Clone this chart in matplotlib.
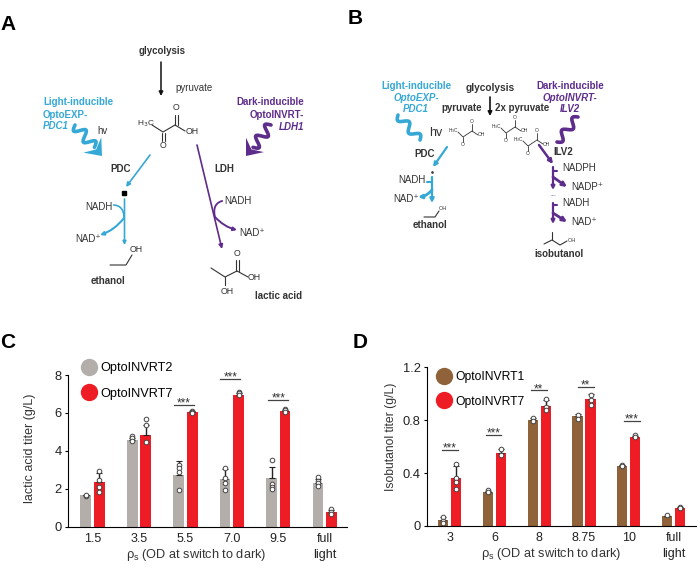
import numpy as np
import matplotlib
matplotlib.use("Agg")
import matplotlib.pyplot as plt
from matplotlib.lines import Line2D
from matplotlib.patches import FancyArrowPatch, Polygon

plt.rcParams['font.family'] = ['Liberation Sans', 'DejaVu Sans']
W, H = 698, 577
CYAN = '#35a8d6'; PURPLE = '#5e2d8c'; DARK = '#333333'
GRAY = '#b3aeaa'; RED = '#ee1c25'; BROWN = '#8f6239'

# --- panel C data
c_labels = ['1.5', '3.5', '5.5', '7.0', '9.5', 'full\nlight']
c_inv2 = [1.65, 4.55, 2.72, 2.50, 2.55, 2.33]
c_inv7 = [2.35, 4.85, 6.03, 6.97, 6.10, 0.75]
c_inv2_err = [0.03, 0.12, 0.72, 0.55, 0.60, 0.20]
c_inv7_err = [0.50, 0.50, 0.05, 0.07, 0.07, 0.12]
c_inv2_pts = [[1.63, 1.68], [4.78, 4.66, 4.52], [3.25, 3.08, 2.90, 1.95],
              [3.09, 2.55, 2.32, 1.92], [3.50, 2.23, 2.10, 1.99], [2.63, 2.43, 2.28, 2.13]]
c_inv7_pts = [[2.92, 2.46, 2.10, 1.85], [5.66, 5.38, 4.48], [6.10, 6.05, 6.00],
              [7.12, 7.05, 6.95], [6.20, 6.15, 6.05], [0.93, 0.79, 0.68]]
c_sig = [(2, 6.42, '***'), (3, 7.79, '***'), (4, 6.70, '***')]

# --- panel D data
d_labels = ['3', '6', '8', '8.75', '10', 'full\nlight']
d_inv1 = [0.045, 0.255, 0.80, 0.83, 0.455, 0.075]
d_inv7 = [0.36, 0.55, 0.91, 0.96, 0.67, 0.135]
d_inv1_err = [0.02, 0.01, 0.015, 0.02, 0.005, 0.003]
d_inv7_err = [0.09, 0.03, 0.04, 0.04, 0.01, 0.005]
d_inv1_pts = [[0.07, 0.04, 0.025], [0.27, 0.255], [0.82, 0.797], [0.842, 0.81], [0.46, 0.455], [0.08]]
d_inv7_pts = [[0.466, 0.36, 0.335, 0.28], [0.58, 0.537], [0.958, 0.897, 0.877],
              [0.99, 0.953, 0.918], [0.685, 0.67], [0.145, 0.135]]
d_sig = [(0, 0.575, '***'), (1, 0.688, '***'), (2, 1.026, '**'), (3, 1.054, '**'), (4, 0.797, '***')]

fig = plt.figure(figsize=(W / 100, H / 100), dpi=100)


def px_axes(x0, x1, ytop, ybot):
    return fig.add_axes([x0 / W, 1 - ybot / H, (x1 - x0) / W, (ybot - ytop) / H])


def bar_panel(ax, s1, s2, e1, e2, p1, p2, col1, col2, labels, ylim, yticks, yticklabels,
              ylabel, sig, xlim, names, dx, bw, legend_xy, sig_dx, sig_hw, leg_fs, leg_ls, leg_pad,
              tick_fs, ylab_fs):
    x = np.arange(len(s1))
    for off, vals, errs, pts, col in ((-dx, s1, e1, p1, col1), (dx, s2, e2, p2, col2)):
        ax.bar(x + off, vals, bw, color=col, zorder=2)
        ax.errorbar(x + off, vals, yerr=[np.zeros(len(errs)), errs], fmt='none', ecolor='#222222',
                    elinewidth=1, capsize=2, capthick=0.8, zorder=3)
        for xi, group in zip(x + off, pts):
            ax.scatter([xi] * len(group), group, s=11, facecolor='white', edgecolor='#444444',
                       linewidth=0.7, zorder=4, clip_on=False)
    for (g, yv, stars), sd in zip(sig, sig_dx):
        ax.plot([g + sd - sig_hw, g + sd + sig_hw], [yv, yv], color='#444444', lw=0.9, clip_on=False)
        ax.text(g + sd, yv - (ylim[1] * 0.03), stars, ha='center', va='bottom', fontsize=8.5,
                color='#333333', clip_on=False, linespacing=1)
    ax.set_xlim(*xlim)
    ax.set_ylim(*ylim)
    ax.set_xticks(x)
    ax.set_xticklabels(labels, fontsize=tick_fs, color='#222222', linespacing=1.4)
    ax.set_yticks(yticks)
    ax.set_yticklabels(yticklabels, fontsize=tick_fs + 0.3, color='#222222')
    ax.tick_params(axis='x', length=0, pad=4.5)
    ax.tick_params(axis='y', length=2.5, width=0.8, pad=2)
    ax.set_ylabel(ylabel, fontsize=ylab_fs, color='#333333')
    for s in ('top', 'right'):
        ax.spines[s].set_visible(False)
    for s in ('left', 'bottom'):
        ax.spines[s].set_linewidth(0.8)
    ax.set_xlabel(r'$\mathregular{\rho_s}$ (OD at switch to dark)', fontsize=9.2, color='#333333')
    handles = [Line2D([], [], ls='', marker='o', ms=12.5, color=col1, mew=0),
               Line2D([], [], ls='', marker='o', ms=12.5, color=col2, mew=0)]
    ax.legend(handles, names, loc='upper left', bbox_to_anchor=(legend_xy[0] / W, 1 - legend_xy[1] / H),
              bbox_transform=fig.transFigure, frameon=False, fontsize=leg_fs, handletextpad=leg_pad,
              labelspacing=leg_ls, borderpad=0, borderaxespad=0, handlelength=1.6)


axc = px_axes(68, 347, 375, 526.7)
bar_panel(axc, c_inv2, c_inv7, c_inv2_err, c_inv7_err, c_inv2_pts, c_inv7_pts, GRAY, RED, c_labels,
          (0, 8), [0, 2, 4, 6, 8], ['0', '2', '4', '6', '8'], 'lactic acid titer (g/L)', c_sig,
          (-0.525, 5.48), ['OptoINVRT2', 'OptoINVRT7'], 0.145, 0.235, (79, 362),
          [-0.03, -0.03, 0.0], 0.215, 9.2, 1.06, 0.05, 9.0, 9.0)
axc.xaxis.label.set_position((0.46, 0))
axc.xaxis.labelpad = -9.5
axc.yaxis.labelpad = 13
axc.yaxis.label.set_position((0, 0.52))

axd = px_axes(427, 696, 367.3, 526)
bar_panel(axd, d_inv1, d_inv7, d_inv1_err, d_inv7_err, d_inv1_pts, d_inv7_pts, BROWN, RED, d_labels,
          (0, 1.2), [0, 0.4, 0.8, 1.2], ['0', '0.4', '0.8', '1.2'], 'Isobutanol titer (g/L)', d_sig,
          (-0.505, 5.5), ['OptoINVRT1', 'OptoINVRT7'], 0.145, 0.225, (434, 371),
          [0, -0.02, -0.015, 0.04, 0.07], 0.178, 8.7, 1.04, 0.2, 9.0, 8.7)
axd.xaxis.label.set_position((0.46, 0))
axd.xaxis.labelpad = -10
axd.yaxis.labelpad = 4
axd.yaxis.label.set_position((0, 0.56))

# --- schematic overlay in pixel coordinates
ov = fig.add_axes([0, 0, 1, 1], zorder=5)
ov.set_xlim(0, W)
ov.set_ylim(H, 0)
ov.axis('off')


def T(x, y, s, size=7.5, color=DARK, weight='normal', style='normal', ha='left', va='center'):
    ov.text(x, y, s, fontsize=size, color=color, fontweight=weight, fontstyle=style, ha=ha, va=va)


def L(xs, ys, color='#333333', lw=0.8):
    ov.plot(xs, ys, color=color, lw=lw, solid_capstyle='round')


def A(p, q, color, lw=1.3, ms=7, rad=0):
    ov.add_patch(FancyArrowPatch(p, q, arrowstyle='-|>', mutation_scale=ms, color=color, lw=lw,
                                 shrinkA=0, shrinkB=0, connectionstyle=f'arc3,rad={rad}'))


def squiggle(p, q, color, lw=2.6, amp=5, n=2.5, head=True):
    p, q = np.array(p, float), np.array(q, float)
    d = q - p
    ln = np.hypot(*d)
    u = d / ln
    v = np.array([-u[1], u[0]])
    t = np.linspace(0, 1, 80)
    end = 0.72 if head else 1
    pts = np.array([p + d * ti * end + v * amp * np.sin(2 * np.pi * n * ti) for ti in t])
    ov.plot(pts[:, 0], pts[:, 1], color=color, lw=lw, solid_capstyle='round')
    if head:
        b = p + d * 0.66
        w = ln * 0.36
        poly = [q, b + v * w * 0.8 - u * w * 0.05, b + u * w * 0.35, b - v * w * 0.8 - u * w * 0.05]
        ov.add_patch(Polygon(poly, closed=True, color=color, lw=0))


def hook(p, c, q, color, lw=1.3):
    t = np.linspace(0, 1, 30)[:, None]
    p, c, q = map(np.array, (p, c, q))
    pts = (1 - t) ** 2 * p + 2 * t * (1 - t) * c + t ** 2 * q
    ov.plot(pts[:, 0], pts[:, 1], color=color, lw=lw)


# panel letters
for x, y, s in [(0, 25, 'A'), (348, 19, 'B'), (0, 343, 'C'), (353, 343, 'D')]:
    T(x, y, s, size=15, color='black', weight='bold')

# panel A
T(162, 51, 'glycolysis', 7, weight='bold', ha='center')
A((161, 62), (161, 96), '#111111', lw=1.1, ms=6)
T(175, 88, 'pyruvate', 7)
T(43, 102, 'Light-inducible', 7.0, CYAN, 'bold')
T(43, 115, 'OptoEXP-', 7.0, CYAN, 'bold')
T(43, 126, 'PDC1', 7.0, CYAN, 'bold', 'italic')
T(304, 102, 'Dark-inducible', 7.0, PURPLE, 'bold', ha='right')
T(304, 115, 'OptoINVRT-', 7.0, PURPLE, 'bold', ha='right')
T(304, 127, 'LDH1', 7.0, PURPLE, 'bold', 'italic', ha='right')
T(97, 131, 'hv', 7)
squiggle((75, 125), (102, 156), CYAN, lw=2.6, amp=5, n=2)
squiggle((271, 125), (246, 156), PURPLE, lw=2.6, amp=5, n=2)
T(137, 124, 'H$_3$C', 6)
L([152, 163, 175, 185], [125, 132, 125, 131])
L([162, 162], [133, 141]); L([164.5, 164.5], [133, 141])
T(162.5, 146, 'O', 6.3, ha='center')
L([175, 175], [125, 115]); L([177.5, 177.5], [125, 115])
T(176, 108, 'O', 6.3, ha='center')
T(186, 131, 'OH', 6.3)
T(110, 169, 'PDC', 7, weight='bold')
T(214, 169, 'LDH', 7, weight='bold')
A((150, 155), (126, 187), CYAN, lw=1.2, ms=6)
ov.plot([124], [193], marker='s', ms=2.5, color='black')
A((124.5, 199), (124.5, 245), CYAN, lw=1.2, ms=5)
hook((114, 205), (124, 206), (124, 218), CYAN, 1.2)
A((124, 218), (100, 235), CYAN, lw=1.5, ms=5, rad=-0.15)
T(85, 207, 'NADH', 7)
T(75, 239, 'NAD⁺', 7)
L([110, 126, 132], [265, 265, 255])
T(130, 250, 'OH', 6.3)
T(91, 281, 'ethanol', 7, weight='bold')
A((197, 145), (222, 249), PURPLE, lw=1.2, ms=6)
hook((222, 201), (212, 204), (215, 217), PURPLE, 1.3)
A((215, 217), (237, 230), PURPLE, lw=1.4, ms=5, rad=0.15)
T(224, 201, 'NADH', 7)
T(239, 233, 'NAD⁺', 7)
L([211, 225, 237, 248], [268, 277, 271, 277])
L([225, 225], [277, 285])
L([236, 236], [271, 260]); L([238.5, 238.5], [271, 260])
T(237, 254, 'O', 6.3, ha='center')
T(248, 277, 'OH', 6.3)
T(227, 291, 'OH', 6.3, ha='center')
T(255, 296, 'lactic acid', 7, weight='bold')

# panel B
T(490, 88, 'glycolysis', 7.3, weight='bold', ha='center')
A((490, 97), (490, 116), '#111111', lw=1.2, ms=6)
T(482, 108, 'pyruvate', 7.0, weight='bold', ha='right')
T(495, 108, '2x pyruvate', 7.0, weight='bold')
T(416, 86, 'Light-inducible', 7.0, CYAN, 'bold', ha='center')
T(416, 98, 'OptoEXP-', 7.0, CYAN, 'bold', 'italic', ha='center')
T(416, 109, 'PDC1', 7.0, CYAN, 'bold', 'italic', ha='center')
T(570, 86, 'Dark-inducible', 7.0, PURPLE, 'bold', ha='center')
T(570, 98, 'OptoINVRT-', 7.0, PURPLE, 'bold', 'italic', ha='center')
T(570, 109, 'ILV2', 7.0, PURPLE, 'bold', 'italic', ha='center')
squiggle((398, 115), (420, 140), CYAN, lw=2.6, amp=4, n=2, head=False)
squiggle((578, 117), (557, 142), PURPLE, lw=2.6, amp=4, n=2, head=False)
T(429, 133, 'hv', 9)


def mini_pyr(x, y):
    T(x - 15, y - 6, 'H$_3$C', 3.4)
    L([x - 5, x, x + 9, x + 15], [y - 5, y, y - 6, y - 2], lw=0.6)
    L([x, x], [y, y + 5], lw=0.6)
    L([x + 9, x + 9], [y - 6, y - 13], lw=0.6)
    T(x, y + 7.5, 'O', 3.6, ha='center')
    T(x + 9, y - 15.5, 'O', 3.6, ha='center')
    T(x + 15, y - 2, 'OH', 3.6)


mini_pyr(463, 137)
mini_pyr(506, 133)
mini_pyr(528, 146)
T(414, 154, 'PDC', 7, weight='bold')
T(553, 152, 'ILV2', 7, weight='bold')
A((447, 147), (433, 167), CYAN, lw=1.6, ms=6)
ov.plot([432], [172], marker='s', ms=0.8, color='#333333')
A((432, 177), (432, 203), CYAN, lw=1.6, ms=6)
L([427, 432], [182, 182], CYAN, 1.5)
A((432, 190), (418, 197), CYAN, lw=2, ms=5, rad=-0.2)
T(398, 180, 'NADH', 7)
T(393, 199, 'NAD⁺', 7)
L([424, 435, 439], [217, 217, 211])
T(439, 209, 'OH', 4)
T(413, 225, 'ethanol', 7, weight='bold')
A((539, 145), (553, 164), PURPLE, lw=1.8, ms=6)
A((553, 167), (553, 190), PURPLE, lw=1.6, ms=5)
A((553, 203), (553, 224), PURPLE, lw=1.6, ms=5)
L([553, 557], [171, 171], PURPLE, 1.5)
L([553, 557], [205, 205], PURPLE, 1.5)
A((553, 177), (567, 187), PURPLE, lw=2, ms=6)
A((553, 213), (567, 222), PURPLE, lw=2, ms=6)
T(562, 168, 'NADPH', 7)
T(571, 187, 'NADP⁺', 7)
T(562, 203, 'NADH', 7)
T(571, 222, 'NAD⁺', 7)
T(553, 194, '...', 5, ha='center', color=PURPLE)
L([544, 552, 560, 567], [244, 240, 245, 241])
L([552, 552], [240, 232])
T(568, 240, 'OH', 4)
T(534, 254, 'isobutanol', 7, weight='bold')

fig.savefig('out.png', dpi=100)
